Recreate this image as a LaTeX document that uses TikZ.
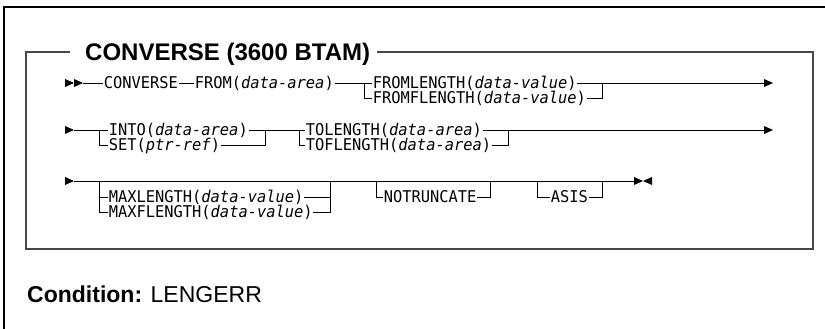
\documentclass[tikz,border=0pt]{standalone}
\usepackage{fontspec}
\setmainfont{Liberation Sans}
\newfontfamily\diagfont[FakeStretch=0.95]{DejaVu Sans Mono}
\newcommand\diagR[1]{\fill (#1) ++(0,-4) -- ++(9,4) -- ++(-9,4) -- cycle;}
\newcommand\diagL[1]{\fill (#1) ++(0,-4) -- ++(-9,4) -- ++(9,4) -- cycle;}
\begin{document}
\begin{tikzpicture}[x=1pt,y=-1pt,
  lbl/.style={font=\diagfont\fontsize{16.2}{16.2}\selectfont, inner xsep=0.6pt, inner ysep=0pt,
              anchor=west, text height=11.8pt, text depth=0pt},
  rl/.style={line width=0.9pt, black},
  frame/.style={line width=2pt, black!72},
  outer/.style={line width=2pt, black}
]
\useasboundingbox (0,0) rectangle (825,329);
% outer frame
\coordinate (o1) at (4,329);
\coordinate (o2) at (4,7);
\coordinate (o3) at (825,7);
\draw[outer] (o1) -- (o2) -- (o3);
% title and box
\node[anchor=base west, inner sep=0pt, font=\bfseries\fontsize{24}{24}\selectfont] (title) at (85,61) {CONVERSE (3600 BTAM)};
\coordinate (tl) at (70,52);
\coordinate (tr) at (377,52);
\coordinate (b1) at (26,52);
\coordinate (b2) at (26,249);
\coordinate (b3) at (813,249);
\coordinate (b4) at (813,52);
\draw[frame] (tl) -- (b1) -- (b2) -- (b3) -- (b4) -- (tr);

% ---------- row 1
\diagR{65,83}
\diagR{74,83}
\coordinate (r1a) at (83,83);
\node[lbl] (conv) at (103,83) {CONVERSE};
\node[lbl] (from) at (194,83) {FROM(\textit{data-area})};
\coordinate (j1a) at (364,83);
\coordinate (j1b) at (364,98);
\node[lbl] (fl) at (372,83) {FROMLENGTH(\textit{data-value})};
\node[lbl] (ffl) at (372,98) {FROMFLENGTH(\textit{data-value})};
\coordinate (k1a) at (602,83);
\coordinate (k1b) at (602,98);
\coordinate (e1) at (765,83);
\draw[rl] (r1a) -- (conv.west);
\draw[rl] (conv.east) -- (from.west);
\draw[rl] (from.east) -- (fl.west);
\draw[rl] (j1a) -- (j1b) -- (ffl.west);
\draw[rl] (fl.east) -- (e1);
\draw[rl] (ffl.east) -- (k1b) -- (k1a);
\diagR{764,83}

% ---------- row 2
\diagR{65,130}
\coordinate (r2a) at (74,130);
\coordinate (j2a) at (99,130);
\coordinate (j2b) at (99,145);
\node[lbl] (into) at (108,130) {INTO(\textit{data-area})};
\node[lbl] (set) at (108,145) {SET(\textit{ptr-ref})};
\coordinate (k2a) at (265,130);
\coordinate (k2b) at (265,145);
\coordinate (j3a) at (299,130);
\coordinate (j3b) at (299,145);
\node[lbl] (tol) at (305,130) {TOLENGTH(\textit{data-area})};
\node[lbl] (tofl) at (305,145) {TOFLENGTH(\textit{data-area})};
\coordinate (k3a) at (508,130);
\coordinate (k3b) at (508,145);
\coordinate (e2) at (765,130);
\draw[rl] (r2a) -- (into.west);
\draw[rl] (j2a) -- (j2b) -- (set.west);
\draw[rl] (into.east) -- (tol.west);
\draw[rl] (set.east) -- (k2b) -- (k2a);
\draw[rl] (j3a) -- (j3b) -- (tofl.west);
\draw[rl] (tol.east) -- (e2);
\draw[rl] (tofl.east) -- (k3b) -- (k3a);
\diagR{764,130}

% ---------- row 3
\diagR{65,181}
\coordinate (r3a) at (74,181);
\coordinate (e3) at (634,181);
\draw[rl] (r3a) -- (e3);
\coordinate (j4a) at (99,181);
\coordinate (j4m) at (99,197);
\coordinate (j4b) at (99,212);
\node[lbl] (maxl) at (108,197) {MAXLENGTH(\textit{data-value})};
\node[lbl] (maxfl) at (108,212) {MAXFLENGTH(\textit{data-value})};
\coordinate (k4a) at (330,181);
\coordinate (k4m) at (330,197);
\coordinate (k4b) at (330,212);
\draw[rl] (j4a) -- (j4b) -- (maxfl.west);
\draw[rl] (j4m) -- (maxl.west);
\draw[rl] (maxl.east) -- (k4m);
\draw[rl] (maxfl.east) -- (k4b) -- (k4a);
\coordinate (j5a) at (376,181);
\coordinate (j5b) at (376,197);
\node[lbl] (notr) at (383,197) {NOTRUNCATE};
\coordinate (k5a) at (490,181);
\coordinate (k5b) at (490,197);
\draw[rl] (j5a) -- (j5b) -- (notr.west);
\draw[rl] (notr.east) -- (k5b) -- (k5a);
\coordinate (j6a) at (537,181);
\coordinate (j6b) at (537,197);
\node[lbl] (asis) at (550,197) {ASIS};
\coordinate (k6a) at (602,181);
\coordinate (k6b) at (602,197);
\draw[rl] (j6a) -- (j6b) -- (asis.west);
\draw[rl] (asis.east) -- (k6b) -- (k6a);
\diagR{634,181}
\diagL{652,181}

% ---------- condition
\node[anchor=base west, inner sep=0pt, font=\fontsize{23}{23}\selectfont] (cond) at (27,302) {\textbf{Condition:} LENGERR};
\end{tikzpicture}
\end{document}
